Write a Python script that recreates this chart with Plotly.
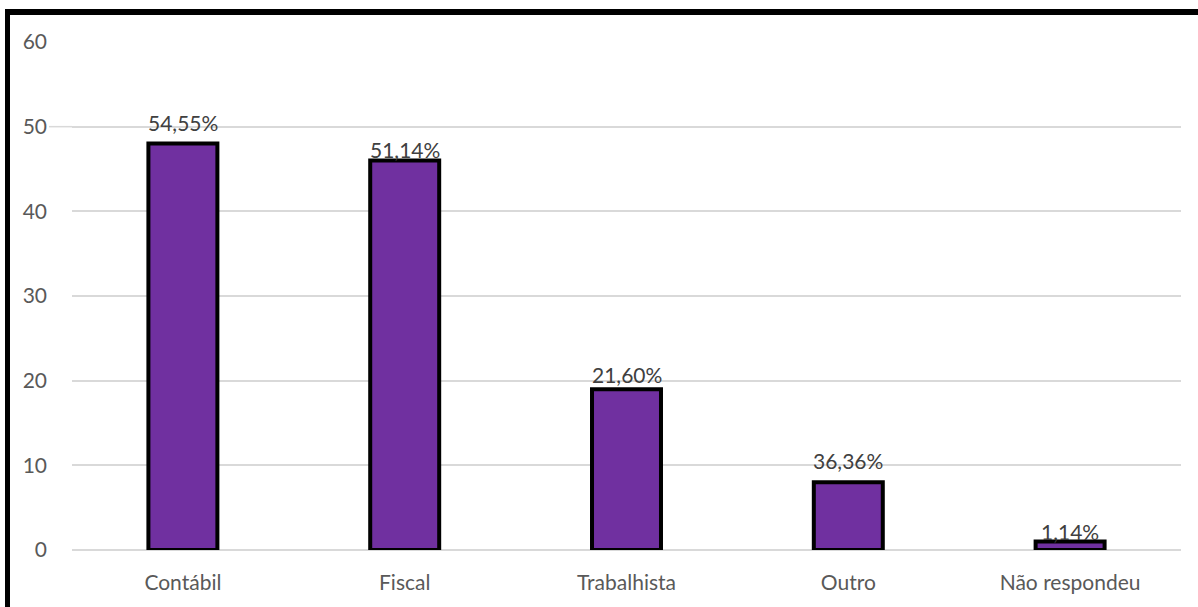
import plotly.graph_objects as go

# Survey responses per area
categories = ["Contábil", "Fiscal", "Trabalhista", "Outro", "Não respondeu"]
counts = [48, 46, 19, 8, 1]
percent_labels = ["54,55%", "51,14%", "21,60%", "36,36%", "1,14%"]
y_ticks = [0, 10, 20, 30, 40, 50, 60]

# Vertical offset (px) of each percentage label above its bar
label_offsets = [21, 11, 15, 22, 10]

W, H = 1198, 607
FONT = "Lato"
PURPLE = "#7030A0"
GRID = "#D9D9D9"
TXT = 21


def px_x(px):
    return px / W


def px_y(px):
    return 1 - px / H


fig = go.Figure()

fig.add_trace(go.Bar(
    x=categories,
    y=counts,
    marker=dict(color=PURPLE, line=dict(color="#000000", width=4)),
    hoverinfo="skip",
    cliponaxis=False,
))

for cat, val, lab, off in zip(categories, counts, percent_labels, label_offsets):
    fig.add_annotation(
        x=cat, y=val, text=lab, showarrow=False,
        xanchor="center", yanchor="middle", yshift=off,
        font=dict(family=FONT, size=TXT, color="#404040"),
    )

shapes = [
    # outer frame: top and left edges
    dict(type="rect", xref="paper", yref="paper",
         x0=px_x(5), x1=px_x(1210), y0=px_y(15), y1=px_y(9),
         fillcolor="#000000", line=dict(width=0), layer="above"),
    dict(type="rect", xref="paper", yref="paper",
         x0=px_x(5), x1=px_x(10), y0=px_y(620), y1=px_y(9),
         fillcolor="#000000", line=dict(width=0), layer="above"),
    # gridline at 50 running under its tick label
    dict(type="line", xref="paper", yref="y",
         x0=px_x(49), x1=px_x(72), y0=50, y1=50,
         line=dict(color=GRID, width=1.5), layer="below"),
]

fig.update_layout(
    width=W, height=H,
    margin=dict(l=0, r=0, t=0, b=0),
    paper_bgcolor="#FFFFFF",
    plot_bgcolor="#FFFFFF",
    bargap=0.689,
    showlegend=False,
    shapes=shapes,
    font=dict(family=FONT, size=TXT, color="#595959"),
    xaxis=dict(
        domain=[px_x(72), px_x(1181)],
        showgrid=False, showline=False, zeroline=False,
        ticks="", automargin=False, ticklabelstandoff=18,
        tickfont=dict(family=FONT, size=TXT, color="#595959"),
    ),
    yaxis=dict(
        domain=[px_y(550), px_y(42)],
        range=[0, 60], tickvals=y_ticks,
        showgrid=True, gridcolor=GRID, gridwidth=1.5,
        zeroline=True, zerolinecolor=GRID, zerolinewidth=2,
        showline=False, ticks="", automargin=False,
        ticklabelstandoff=24,
        tickfont=dict(family=FONT, size=TXT, color="#595959"),
    ),
)

fig.write_html("out.html")
